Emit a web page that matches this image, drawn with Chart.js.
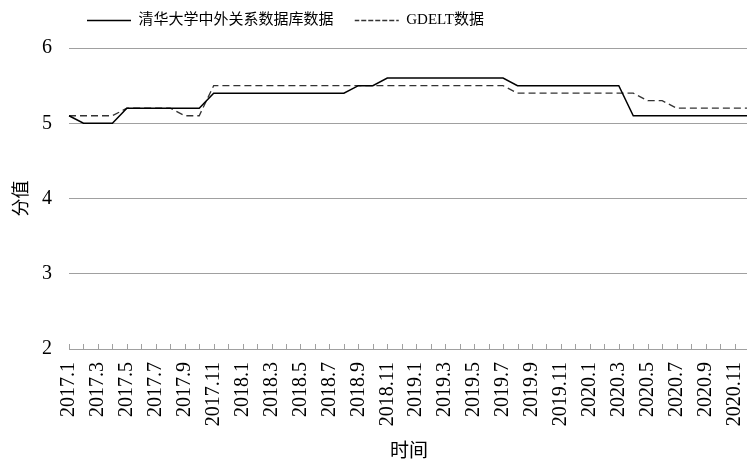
<!DOCTYPE html>
<html>
<head>
<meta charset="utf-8">
<script src="https://cdn.jsdelivr.net/npm/chart.js@4.4.0/dist/chart.umd.min.js"></script>
<style>
html,body{margin:0;padding:0;background:#fff;overflow:hidden;}
#wrap{position:relative;width:749px;height:465px;}
</style>
</head>
<body>
<div id="wrap"><canvas id="myChart"></canvas></div>
<script>
var meses = [
  '2017.1','2017.2','2017.3','2017.4','2017.5','2017.6','2017.7','2017.8','2017.9','2017.10','2017.11','2017.12',
  '2018.1','2018.2','2018.3','2018.4','2018.5','2018.6','2018.7','2018.8','2018.9','2018.10','2018.11','2018.12',
  '2019.1','2019.2','2019.3','2019.4','2019.5','2019.6','2019.7','2019.8','2019.9','2019.10','2019.11','2019.12',
  '2020.1','2020.2','2020.3','2020.4','2020.5','2020.6','2020.7','2020.8','2020.9','2020.10','2020.11','2020.12'
];
var tsinghua = [
  5.1,5.0,5.0,5.0,5.2,5.2,5.2,5.2,5.2,5.2,5.4,5.4,
  5.4,5.4,5.4,5.4,5.4,5.4,5.4,5.4,5.5,5.5,5.6,5.6,
  5.6,5.6,5.6,5.6,5.6,5.6,5.6,5.5,5.5,5.5,5.5,5.5,
  5.5,5.5,5.5,5.1,5.1,5.1,5.1,5.1,5.1,5.1,5.1,5.1
];
var gdelt = [
  5.1,5.1,5.1,5.1,5.2,5.2,5.2,5.2,5.1,5.1,5.5,5.5,
  5.5,5.5,5.5,5.5,5.5,5.5,5.5,5.5,5.5,5.5,5.5,5.5,
  5.5,5.5,5.5,5.5,5.5,5.5,5.5,5.4,5.4,5.4,5.4,5.4,
  5.4,5.4,5.4,5.4,5.3,5.3,5.2,5.2,5.2,5.2,5.2,5.2
];
var yMin = 2, yMax = 6, yPaso = 1;

var fuente = '"Liberation Serif", "Noto Sans CJK SC", serif';
var gris = '#a0a0a0';

// marcas pequeñas hacia dentro sobre el eje x
var marcasX = {
  id: 'marcasX',
  beforeDatasetsDraw: function(chart){
    var ctx = chart.ctx, x = chart.scales.x, b = chart.chartArea.bottom;
    ctx.save();
    ctx.strokeStyle = gris;
    ctx.lineWidth = 1;
    for (var i = 0; i < x.ticks.length; i++) {
      var px = Math.round(x.getPixelForTick(i)) + 0.5;
      ctx.beginPath();
      ctx.moveTo(px, b);
      ctx.lineTo(px, b - 5);
      ctx.stroke();
    }
    ctx.restore();
  }
};

// mover la leyenda a su sitio
var moverLeyenda = {
  id: 'moverLeyenda',
  afterLayout: function(chart){
    var l = chart.legend;
    l.left += 77; l.right += 77;
    l.top -= 10; l.bottom -= 10;
  }
};

var ctx = document.getElementById('myChart');
var myChart = new Chart(ctx, {
  type: 'line',
  data: {
    labels: meses,
    datasets: [{
      label: '清华大学中外关系数据库数据   ',
      data: tsinghua,
      borderColor: '#000',
      backgroundColor: '#000',
      borderWidth: 1.5,
      pointRadius: 0,
      tension: 0
    }, {
      label: 'GDELT数据',
      data: gdelt,
      borderColor: '#333',
      backgroundColor: '#333',
      borderWidth: 1.3,
      borderDash: [7, 4],
      pointRadius: 0,
      tension: 0
    }]
  },
  options: {
    responsive: true,
    maintainAspectRatio: false,
    animation: false,
    layout: { padding: { top: 13, left: 0, right: 0, bottom: 0 } },
    plugins: {
      legend: {
        position: 'top',
        align: 'start',
        labels: {
          boxWidth: 44,
          boxHeight: 0,
          padding: 10,
          color: '#000',
          font: { family: fuente, size: 15 },
          generateLabels: function(chart){
            var items = Chart.defaults.plugins.legend.labels.generateLabels(chart);
            // la muestra es un rectángulo de alto 0: el trazo va y vuelve
            items[1].lineDash = [5, 2];
            items[1].lineDashOffset = 0.5;
            return items;
          }
        }
      },
      tooltip: { enabled: false }
    },
    scales: {
      x: {
        ticks: {
          autoSkip: false,
          maxRotation: 90,
          minRotation: 90,
          padding: 13,
          color: '#000',
          font: { family: fuente, size: 20 },
          callback: function(v, i){ return i % 2 === 0 ? this.getLabelForValue(v) : ''; }
        },
        grid: { drawOnChartArea: false, drawTicks: false },
        border: { display: true, color: gris, width: 1 },
        title: { display: true, text: '时间', color: '#000', font: { family: fuente, size: 19 }, padding: { top: 4, bottom: 2 } },
        afterFit: function(s){ s.height = 116; s.paddingRight = 0; s.paddingLeft = 0; }
      },
      y: {
        min: yMin,
        max: yMax,
        ticks: { stepSize: yPaso, padding: 17, color: '#000', font: { family: fuente, size: 20 } },
        grid: { color: gris, drawTicks: false },
        border: { display: false },
        title: { display: true, text: '分值', color: '#000', font: { family: fuente, size: 18 }, padding: { top: 11, bottom: 0 } },
        afterFit: function(s){ s.width = 69; }
      }
    }
  },
  plugins: [marcasX, moverLeyenda]
});
</script>
</body>
</html>
